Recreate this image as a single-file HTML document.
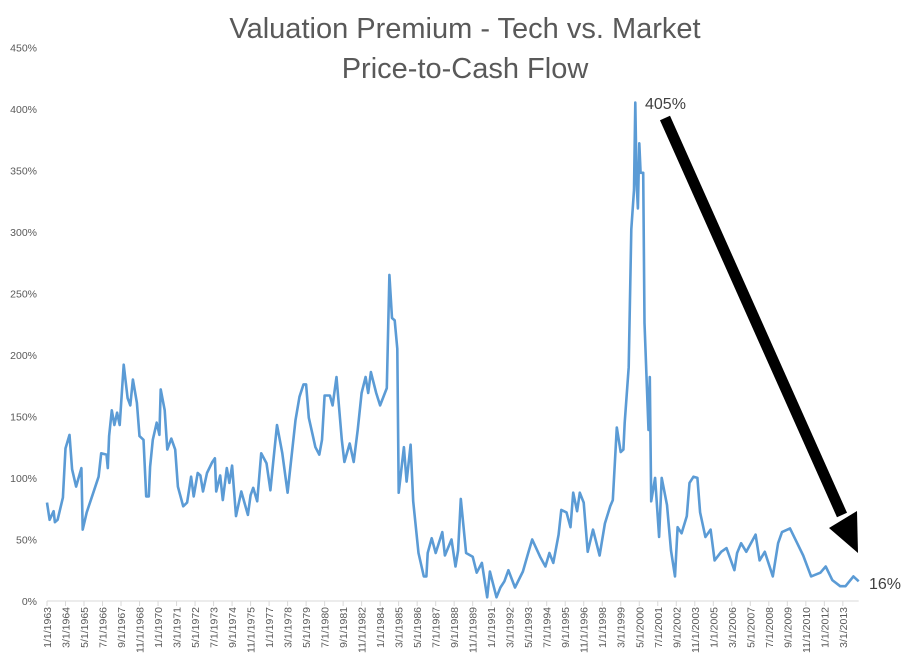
<!DOCTYPE html>
<html><head><meta charset="utf-8"><style>
body{margin:0;background:#fff;}
svg{display:block;font-family:"Liberation Sans",sans-serif;}
</style></head><body>
<svg id="chart" width="915" height="667">
<text x="465" y="38" text-anchor="middle" font-size="29" fill="#595959">Valuation Premium - Tech vs. Market</text>
<text x="465" y="78" text-anchor="middle" font-size="29" fill="#595959">Price-to-Cash Flow</text>
<g id="yaxis"></g>
<g id="xaxis"></g>
<path id="series" fill="none" stroke="#5b9bd5" stroke-width="2.6" stroke-linejoin="round"></path>
<line x1="665" y1="118" x2="842" y2="515" stroke="#000" stroke-width="11"/>
<polygon points="829,528 858,553 857,511" fill="#000"/>
<text x="645" y="109" font-size="16" fill="#404040">405%</text>
<text x="869" y="589" font-size="16" fill="#404040">16%</text>
</svg>
<script>
const months=[0,2,5,6,8,12,14,17,19,22,26,27,30,35,39,41,45,46,47,49,51,53,55,58,61,63,65,68,70,73,75,77,78,80,83,85,86,89,91,94,97,99,103,106,109,111,114,116,118,121,125,127,128,131,133,136,138,140,143,147,152,154,156,159,162,166,169,171,174,178,182,188,191,194,196,198,203,206,208,210,214,216,219,223,225,229,232,235,238,241,243,245,249,252,257,259,261,263,265,266,270,272,275,277,281,285,287,288,291,294,299,301,306,309,311,313,317,322,325,329,333,335,340,343,346,349,354,360,364,367,373,377,380,383,387,389,393,396,398,401,403,406,409,413,418,422,426,428,431,434,436,437,440,442,444,445,446,447,448,449,451,452,455,456,457,460,463,465,469,472,475,477,480,484,486,489,492,494,498,502,505,510,514,520,522,525,529,536,539,543,549,553,556,562,567,572,578,585,589,594,600,604,610,614];
const values=[80,66,73,64,66,84,124,135,107,93,108,58,72,88,101,120,119,108,134,155,143,153,143,192,165,159,180,161,134,131,85,85,109,131,145,135,172,155,123,132,123,93,77,80,101,85,104,102,89,104,113,116,89,102,82,108,96,110,69,89,70,86,92,81,120,112,90,112,143,120,88,147,166,176,176,149,125,119,131,167,167,159,182,131,113,128,113,139,169,182,169,186,169,159,173,265,230,228,205,88,125,97,127,81,39,20,20,39,51,39,56,37,50,28,41,83,39,36,23,31,3,24,3,11,16,25,11,24,39,50,36,28,39,31,54,74,72,60,88,73,88,80,40,58,37,63,77,82,141,121,123,145,190,302,334,405,340,319,372,348,348,226,139,182,81,100,52,100,78,41,20,60,55,69,96,101,100,72,52,58,33,40,43,25,39,47,40,54,33,40,20,47,56,59,48,37,20,23,28,17,12,12,20,16];
const yTicks=[0,50,100,150,200,250,300,350,400,450];
const xStartYear=1963, labelStepMonths=14, labelCount=44;
const NS="http://www.w3.org/2000/svg";
const x0=47, pxPerMonth=1.322, y0=601, pxPerPct=1.2305;
const X=m=>x0+m*pxPerMonth, Y=v=>y0-v*pxPerPct;
const ya=document.getElementById('yaxis');
yTicks.forEach(t=>{
  const tx=document.createElementNS(NS,'text');
  
  
  tx.setAttribute('x',37);tx.setAttribute('y',Y(t)+4);
  tx.setAttribute('text-anchor','end');tx.setAttribute('font-size','10.5');tx.setAttribute('fill','#595959');
  tx.textContent=t+'%';ya.appendChild(tx);
});
const xa=document.getElementById('xaxis');
const ax=document.createElementNS(NS,'line');


ax.setAttribute('x1',x0);ax.setAttribute('x2',X(614));ax.setAttribute('y1',y0);ax.setAttribute('y2',y0);
ax.setAttribute('stroke','#d9d9d9');ax.setAttribute('stroke-width','1');xa.appendChild(ax);
for(let k=0;k<labelCount;k++){
  const m=k*labelStepMonths, x=X(m);
  const tk=document.createElementNS(NS,'line');
  
  
  tk.setAttribute('x1',x);tk.setAttribute('x2',x);tk.setAttribute('y1',y0);tk.setAttribute('y2',y0+5);
  tk.setAttribute('stroke','#d9d9d9');xa.appendChild(tk);
  const mo=(m%12)+1, yr=xStartYear+Math.floor(m/12);
  const tx=document.createElementNS(NS,'text');
  
  
  tx.setAttribute('transform','translate('+(x+4)+','+(y0+6)+') rotate(-90)');
  tx.setAttribute('text-anchor','end');tx.setAttribute('font-size','10.5');tx.setAttribute('fill','#595959');
  tx.textContent=mo+'/1/'+yr;xa.appendChild(tx);
}
let d='';
months.forEach((m,i)=>{d+=(i?'L':'M')+X(m).toFixed(1)+','+Y(values[i]).toFixed(1);});
document.getElementById('series').setAttribute('d',d);
</script>
</body></html>
